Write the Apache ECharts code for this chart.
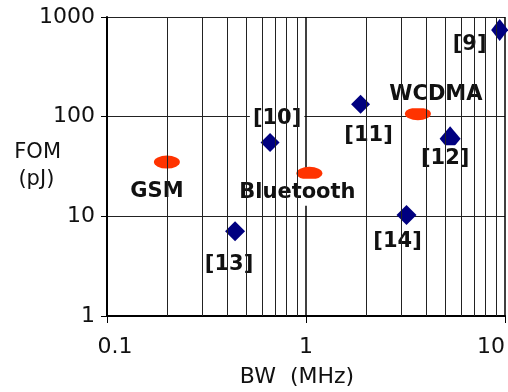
<!DOCTYPE html>
<html>
<head>
<meta charset="utf-8">
<script src="https://cdn.jsdelivr.net/npm/echarts@6/dist/echarts.min.js"></script>
<style>
  html, body { margin: 0; padding: 0; background: #fff; }
  #chart { width: 508px; height: 392px; }
</style>
</head>
<body>
<div id="chart"></div>
<script>
// standards (red ellipses)
const bandNames = ['GSM', 'Bluetooth', 'WCDMA']
const bandBW = [0.2, 1.04, 3.65]
const bandFOM = [35, 27, 107]

// references (navy diamonds)
const refNames = ['[9]', '[10]', '[11]', '[12]', '[13]', '[14]']
const refBW = [9.4, 0.66, 1.88, 5.3, 0.44, 3.2]
const refFOM = [740, 55, 133, 60, 7.1, 10.3]

// minor vertical grid lines of the log x axis
const xMinorGrid = [0.2, 0.3, 0.4, 0.5, 0.6, 0.7, 0.8, 0.9, 2, 3, 4, 5, 6, 7, 8, 9]

// label placement / marker sizes (style only)
const bandOffsets = [[-10, 29], [-12, 19], [18, -19]]
const refOffsets = [[-30, 15], [7, -24], [8, 31], [-5, 20], [-6, 33], [-9, 26]]
const refSizes = [[17, 22], [19, 19], [19, 19], [21, 25], [20, 20], [20, 20]]

const FONT = 'DejaVu Sans'

const labelStyle = (offset) => ({
  show: true,
  position: 'inside',
  offset: offset,
  formatter: '{b}',
  fontFamily: FONT,
  fontWeight: 'bold',
  fontSize: 21,
  color: '#111',
  backgroundColor: '#fff',
  padding: [3, 3]
})

const chart = echarts.init(document.getElementById('chart'))

const option = {
  animation: false,
  backgroundColor: '#fff',
  grid: { left: 107, right: 3, top: 17, bottom: 76, containLabel: false, outerBoundsMode: 'none' },
  xAxis: {
    type: 'log',
    logBase: 10,
    min: 0.1,
    max: 10,
    name: 'BW  (MHz)',
    nameLocation: 'middle',
    nameGap: 50,
    nameMoveOverlap: false,
    nameTextStyle: { fontFamily: FONT, fontSize: 22, color: '#111', padding: [0, 18, 0, 0] },
    axisLine: { show: true, lineStyle: { color: '#000', width: 2 } },
    axisTick: { show: true, length: 7, lineStyle: { color: '#000', width: 1 } },
    axisLabel: {
      fontFamily: FONT, fontSize: 22, color: '#111', margin: 20,
      alignMaxLabel: 'right',
      formatter: (v, i) => (i === 0 ? '{first|' + v + '}' : String(v)),
      rich: { first: { fontFamily: FONT, fontSize: 22, color: '#111', padding: [0, 0, 0, 16] } }
    },
    splitLine: { show: true, lineStyle: { color: '#000', width: 1.5 } }
  },
  yAxis: {
    type: 'log',
    logBase: 10,
    min: 1,
    max: 1000,
    name: 'FOM\n(pJ) ',
    nameLocation: 'middle',
    nameRotate: 0,
    nameGap: 46,
    nameMoveOverlap: false,
    nameTextStyle: { fontFamily: FONT, fontSize: 21, color: '#111', lineHeight: 27, padding: [21, 0, 0, 0] },
    axisLine: { show: true, lineStyle: { color: '#000', width: 2 } },
    axisTick: { show: true, length: 6, lineStyle: { color: '#000', width: 1 } },
    axisLabel: { fontFamily: FONT, fontSize: 22, color: '#111', margin: 12, formatter: v => String(v) },
    splitLine: { show: true, lineStyle: { color: '#222', width: 1 } }
  },
  series: [
    {
      type: 'scatter',
      data: [],
      z: 1,
      silent: true,
      markLine: {
        silent: true,
        symbol: 'none',
        label: { show: false },
        lineStyle: { color: '#222', width: 1, type: 'solid' },
        data: xMinorGrid.map(v => ({ xAxis: v }))
      }
    },
    {
      type: 'scatter',
      z: 3,
      symbol: 'circle',
      symbolSize: [26, 13],
      itemStyle: { color: '#ff3300', opacity: 1 },
      data: bandNames.map((n, i) => ({
        name: n,
        value: [bandBW[i], bandFOM[i]],
        label: labelStyle(bandOffsets[i])
      }))
    },
    {
      type: 'scatter',
      z: 3,
      symbol: 'diamond',
      itemStyle: { color: '#000080', opacity: 1 },
      data: refNames.map((n, i) => ({
        name: n,
        value: [refBW[i], refFOM[i]],
        symbolSize: refSizes[i],
        label: labelStyle(refOffsets[i])
      }))
    }
  ]
}

chart.setOption(option)
</script>
</body>
</html>
